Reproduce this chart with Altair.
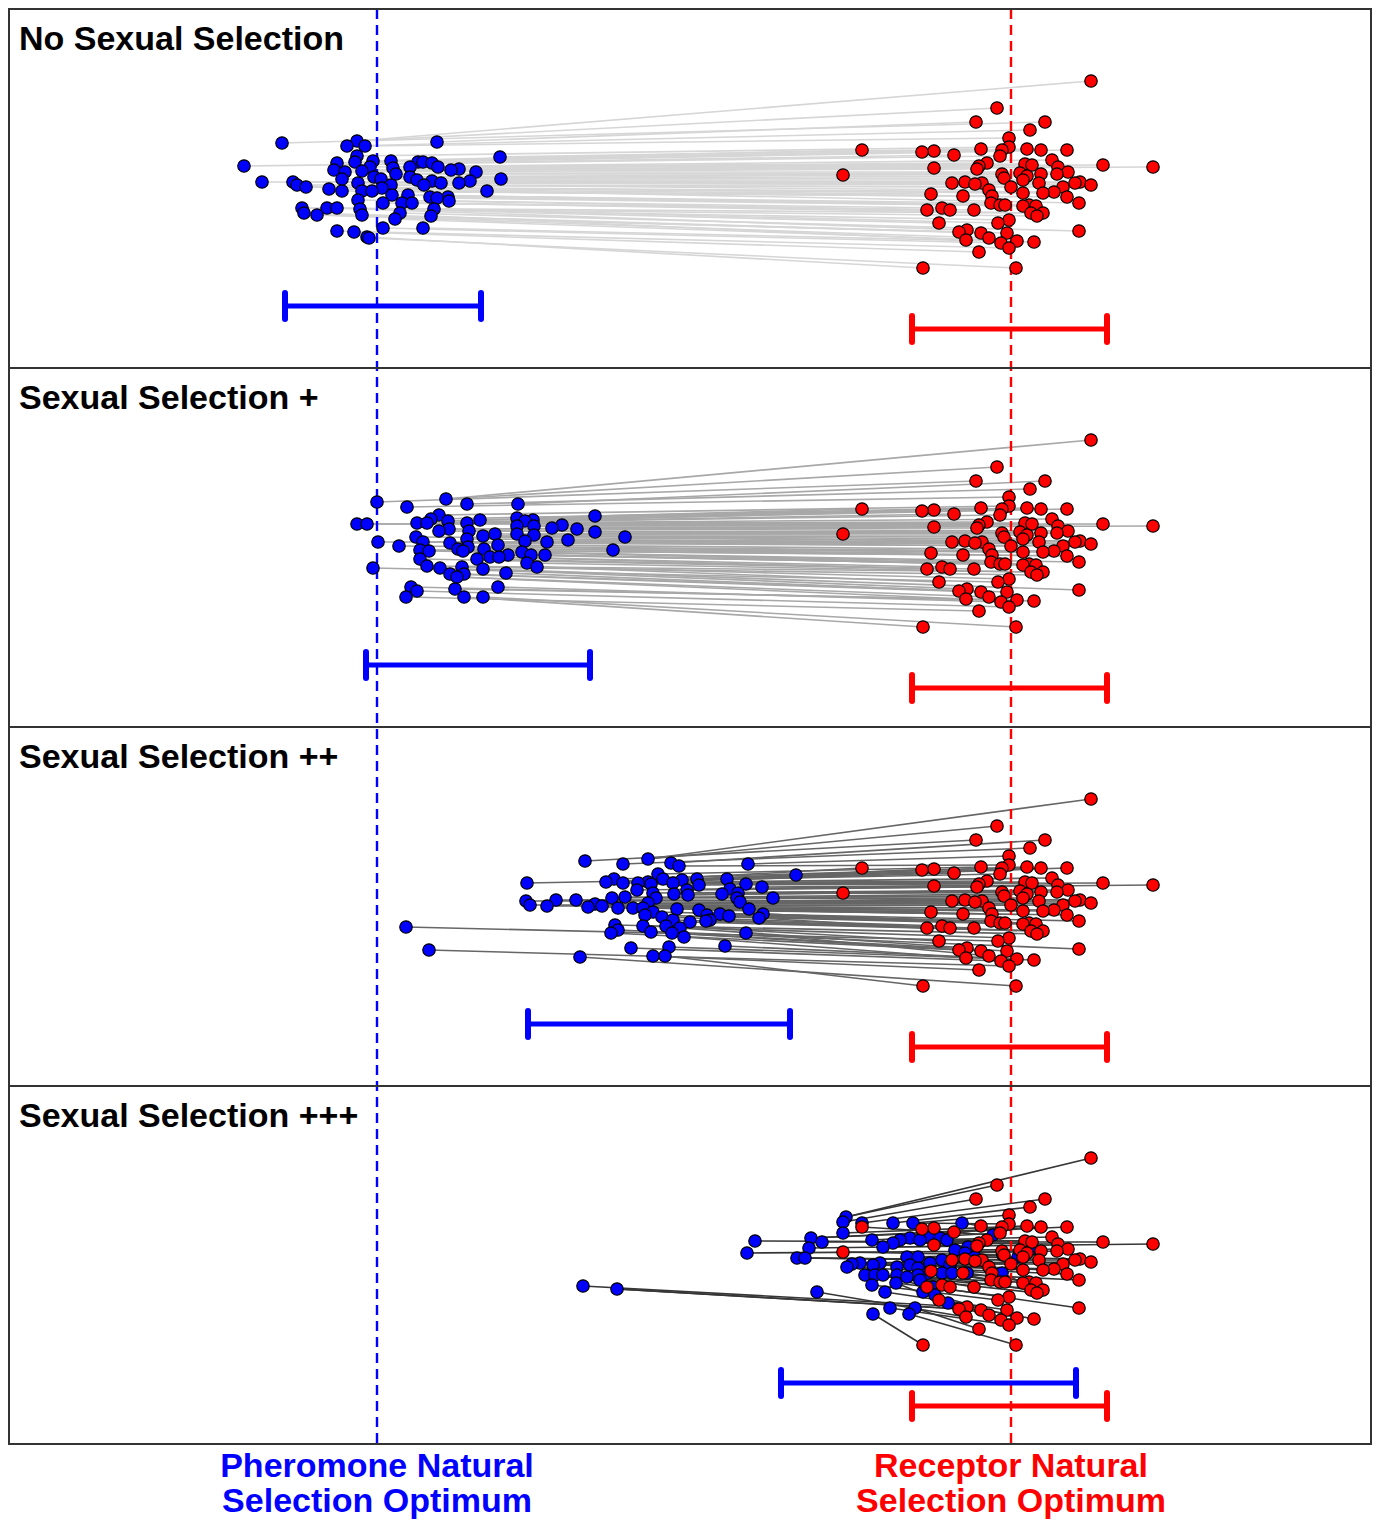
import altair as alt
import pandas as pd

# ---------------- data (trait units: pheromone optimum = 0, receptor optimum = 634) ----------------
PHER_OPT = 0
REC_OPT = 634

panel_titles = ["No Sexual Selection", "Sexual Selection +", "Sexual Selection ++", "Sexual Selection +++"]

# receptor values (same population in every panel); y = vertical jitter inside a panel
red_x = [714, 620, 599, 668, 653, 632, 632, 604, 650, 485, 625, 664, 690, 557, 545, 577, 623, 675, 610, 648,
         655, 726, 602, 681, 776, 557, 600, 691, 643, 625, 664, 680, 466, 650, 627, 646, 588, 703, 575, 605,
         662, 698, 598, 714, 634, 686, 612, 677, 646, 666, 554, 586, 615, 690, 702, 614, 623, 628, 652, 646,
         659, 565, 550, 573, 597, 654, 666, 660, 632, 562, 621, 590, 702, 582, 604, 630, 612, 589, 640, 657,
         624, 632, 602, 546, 639]
red_y = [72, 99, 113, 113, 121, 129, 138, 140, 140, 141, 141, 141, 141, 142, 143, 146, 147, 151, 154, 155,
         156, 156, 157, 158, 158, 159, 160, 163, 164, 165, 165, 165, 166, 167, 169, 171, 173, 173, 174, 174,
         174, 174, 175, 176, 178, 178, 181, 183, 184, 184, 185, 187, 187, 188, 194, 194, 196, 196, 196, 197,
         197, 199, 201, 201, 201, 204, 204, 207, 211, 214, 214, 221, 222, 223, 224, 224, 229, 231, 232, 233,
         234, 239, 243, 259, 259]

# pheromone values per panel
blue_x_1 = [-20, 60, -95, -30, -12, -20, 123, 14, -4, -22, 41, 46, -40, 55, -133, -7, 33, 61, 16, 82,
            -43, 74, -15, -32, 99, 19, -3, 33, -35, 4, 124, 40, 55, 93, -115, -84, -19, 64, 82, -80,
            14, 47, -71, 5, -48, -35, -15, -5, 110, 15, 31, 53, 71, 60, -19, 72, 6, 25, 35, -75,
            -50, -40, 57, -17, 23, -73, -15, -60, 54, 18, 46, 6, -40, -23, -10, -8]
blue_y_1 = [132, 133, 134, 137, 137, 147, 148, 152, 152, 153, 153, 153, 154, 154, 157, 158, 158, 158, 159, 160,
            161, 161, 162, 163, 163, 165, 168, 168, 170, 170, 170, 171, 172, 172, 173, 173, 174, 174, 174, 176,
            176, 176, 178, 179, 180, 182, 182, 182, 182, 186, 186, 188, 188, 189, 191, 192, 194, 194, 194, 199,
            199, 199, 200, 200, 204, 204, 206, 206, 207, 210, 219, 219, 222, 223, 228, 229]

blue_x_2 = [69, 0, 141, 90, 30, 62, 218, 140, 54, 103, 156, 71, 148, 40, 50, 90, -20, -10, 185, 140,
            157, 175, 72, 200, 62, 92, 218, 118, 140, 157, 106, 248, 39, 90, 191, 148, 1, 46, 170, 73,
            121, 22, 91, 81, 107, 43, 236, 52, 86, 145, 131, 154, 168, 113, 122, 43, 100, 150, 50, 85,
            160, -4, 63, 106, 129, 73, 87, 80, 78, 34, 121, 40, 29, 87, 106]
blue_y_2 = [131, 134, 136, 136, 139, 147, 148, 150, 151, 152, 152, 153, 153, 155, 155, 155, 156, 156, 157, 158,
            158, 160, 161, 161, 163, 163, 164, 166, 166, 167, 168, 169, 169, 171, 172, 173, 174, 174, 174, 175,
            177, 178, 179, 181, 181, 182, 182, 183, 183, 184, 187, 187, 187, 189, 189, 191, 191, 195, 198, 199,
            199, 200, 200, 201, 205, 206, 206, 209, 221, 219, 219, 223, 229, 229, 229]

blue_x_3 = [271, 208, 294, 246, 371, 302, 281, 419, 286, 237, 320, 350, 305, 229, 271, 150, 246, 261, 296, 369,
            274, 322, 385, 353, 260, 310, 276, 361, 297, 345, 311, 235, 279, 360, 396, 248, 199, 179, 149, 363,
            271, 218, 153, 170, 225, 211, 241, 256, 266, 300, 372, 322, 276, 343, 386, 330, 268, 352, 285, 382,
            296, 333, 329, 313, 238, 266, 289, 29, 303, 241, 234, 274, 295, 369, 307, 348, 292, 254, 52, 276,
            288, 203]
blue_y_3 = [132, 134, 136, 137, 137, 139, 147, 148, 152, 152, 152, 152, 153, 155, 155, 156, 156, 156, 156, 157,
            157, 158, 160, 162, 163, 163, 166, 166, 167, 167, 168, 171, 171, 171, 171, 170, 173, 173, 174, 175,
            176, 177, 178, 179, 179, 180, 181, 181, 181, 182, 182, 183, 185, 187, 187, 188, 188, 189, 190, 191,
            193, 193, 194, 195, 198, 199, 199, 200, 201, 203, 206, 205, 206, 206, 210, 219, 220, 221, 223, 229,
            229, 230]

blue_x_4 = [469, 466, 485, 516, 536, 585, 466, 616, 552, 434, 533, 563, 523, 495, 543, 570, 378, 445, 516, 506,
            591, 432, 578, 653, 370, 588, 626, 641, 530, 541, 598, 420, 428, 565, 483, 503, 553, 475, 496, 533,
            573, 470, 520, 541, 551, 565, 575, 590, 625, 488, 498, 506, 520, 541, 530, 543, 519, 495, 206, 556,
            240, 508, 546, 440, 558, 571, 513, 538, 496, 532]
blue_y_4 = [131, 136, 137, 137, 137, 137, 147, 149, 151, 152, 152, 152, 154, 154, 154, 154, 155, 156, 157, 161,
            161, 162, 164, 164, 167, 167, 169, 171, 171, 171, 171, 172, 172, 174, 177, 177, 177, 178, 179, 179,
            179, 181, 181, 182, 187, 187, 187, 187, 187, 189, 189, 189, 189, 189, 191, 194, 197, 199, 200, 201,
            203, 206, 206, 206, 209, 217, 222, 222, 228, 228]

blue_x = [blue_x_1, blue_x_2, blue_x_3, blue_x_4]
blue_y = [blue_y_1, blue_y_2, blue_y_3, blue_y_4]

# population ranges (bars)
blue_lo = [-92, -11, 151, 404]
blue_hi = [104, 213, 413, 699]
red_lo = [535, 535, 535, 535]
red_hi = [730, 730, 730, 730]

label_pher = ["Pheromone Natural", "Selection Optimum"]
label_rec = ["Receptor Natural", "Selection Optimum"]

# ---------------- layout ----------------
W, H = 1363, 1511
PANEL_H = 359
FRAME_H = 1435
X_DOMAIN = [-368, 995]
BLUE_BAR_DY, RED_BAR_DY, CAP = 297, 320, 13
TITLE_DY = 41
LABEL_Y = [1468, 1503]
BLUE, RED = "#0000ff", "#ff0000"
LINE_COLORS = ["#d6d6d6", "#a8a8a8", "#666666", "#363636"]
FONT = "Liberation Sans"
PT_SIZE = 155

xs = alt.Scale(domain=X_DOMAIN, nice=False, zero=False)
ys = alt.Scale(domain=[0, H], reverse=True, nice=False, zero=False)
X = lambda f: alt.X(f, type="quantitative", scale=xs, axis=None)
Y = lambda f: alt.Y(f, type="quantitative", scale=ys, axis=None)

# ---------------- tables ----------------
pts_blue, pts_red, links, bars, caps, titles = [], [], [], [], [], []
for p in range(4):
    off = p * PANEL_H
    bx, by = blue_x[p], blue_y[p]
    nb, nr = len(bx), len(red_x)
    for i in range(nb):
        pts_blue.append(dict(panel=p, x=bx[i], y=by[i] + off))
    for j in range(nr):
        pts_red.append(dict(panel=p, x=red_x[j], y=red_y[j] + off))
        i = j * nb // nr
        links.append(dict(panel=p, x=bx[i], y=by[i] + off, x2=red_x[j], y2=red_y[j] + off))
    for kind, lo, hi, dy in (("P", blue_lo[p], blue_hi[p], BLUE_BAR_DY), ("R", red_lo[p], red_hi[p], RED_BAR_DY)):
        yc = off + dy
        bars.append(dict(kind=kind, x=lo, x2=hi, y=yc))
        caps.append(dict(kind=kind, x=lo, y=yc - CAP, y2=yc + CAP))
        caps.append(dict(kind=kind, x=hi, y=yc - CAP, y2=yc + CAP))
    titles.append(dict(text=panel_titles[p], y=off + TITLE_DY))

pts_blue = pd.DataFrame(pts_blue)
pts_red = pd.DataFrame(pts_red)
links = pd.DataFrame(links)
bars = pd.DataFrame(bars)
caps = pd.DataFrame(caps)
titles = pd.DataFrame(titles)
seps = pd.DataFrame({"y": [PANEL_H * k for k in (1, 2, 3)]})
optima = pd.DataFrame({"x": [PHER_OPT, REC_OPT]})
labels_p = pd.DataFrame({"text": label_pher, "x": [PHER_OPT] * 2, "y": LABEL_Y})
labels_r = pd.DataFrame({"text": label_rec, "x": [REC_OPT] * 2, "y": LABEL_Y})
one = pd.DataFrame({"a": [0]})

layers = []
# connecting lines
for p in range(4):
    layers.append(
        alt.Chart(links[links.panel == p]).mark_rule(color=LINE_COLORS[p], strokeWidth=1.6)
        .encode(x=X("x"), x2="x2", y=Y("y"), y2="y2")
    )
# dashed optimum lines
for c, xv in ((BLUE, PHER_OPT), (RED, REC_OPT)):
    layers.append(
        alt.Chart(optima[optima.x == xv]).mark_rule(color=c, strokeWidth=2.4, strokeDash=[10, 6])
        .encode(x=X("x"), y=alt.value(0), y2=alt.value(FRAME_H))
    )
# range bars with caps
for kind, c in (("P", BLUE), ("R", RED)):
    layers.append(
        alt.Chart(bars[bars.kind == kind]).mark_rule(color=c, strokeWidth=5)
        .encode(x=X("x"), x2="x2", y=Y("y"))
    )
    layers.append(
        alt.Chart(caps[caps.kind == kind]).mark_rule(color=c, strokeWidth=6, strokeCap="round")
        .encode(x=X("x"), y=Y("y"), y2="y2")
    )
# points
layers.append(
    alt.Chart(pts_blue).mark_circle(size=PT_SIZE, color=BLUE, opacity=1, stroke="black", strokeWidth=1.2)
    .encode(x=X("x"), y=Y("y"))
)
layers.append(
    alt.Chart(pts_red).mark_circle(size=PT_SIZE, color=RED, opacity=1, stroke="black", strokeWidth=1.2)
    .encode(x=X("x"), y=Y("y"))
)
# frame and panel separators
layers.append(
    alt.Chart(one).mark_rect(fillOpacity=0, stroke="#333333", strokeWidth=2)
    .encode(x=alt.value(0), x2=alt.value(W - 1), y=alt.value(0), y2=alt.value(FRAME_H))
)
layers.append(
    alt.Chart(seps).mark_rule(color="#333333", strokeWidth=2)
    .encode(y=Y("y"), x=alt.value(0), x2=alt.value(W - 1))
)
# panel titles
layers.append(
    alt.Chart(titles).mark_text(align="left", baseline="alphabetic", font=FONT, fontSize=34,
                                fontWeight="bold", color="black")
    .encode(x=alt.value(10), y=Y("y"), text="text:N")
)
# bottom labels
for df, c in ((labels_p, BLUE), (labels_r, RED)):
    layers.append(
        alt.Chart(df).mark_text(align="center", baseline="alphabetic", font=FONT, fontSize=34,
                                fontWeight="bold", color=c)
        .encode(x=X("x"), y=Y("y"), text="text:N")
    )

chart = alt.layer(*layers).properties(
    width=W, height=H, autosize="none",
    padding={"left": 1, "top": 1, "right": 0, "bottom": 0},
).configure_view(stroke=None)

chart.save("out.html", embed_options={"renderer": "svg", "actions": False})
